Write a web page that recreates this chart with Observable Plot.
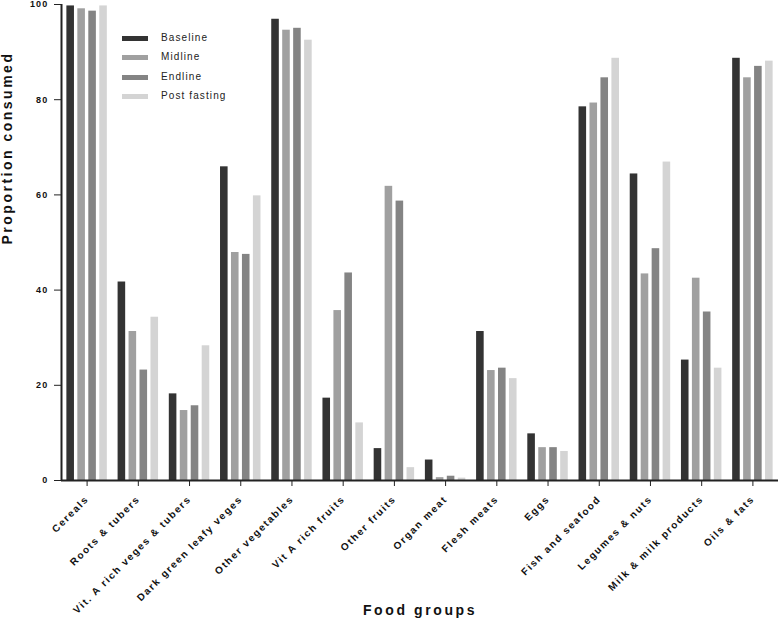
<!DOCTYPE html>
<html>
<head>
<meta charset="utf-8">
<script src="https://cdn.jsdelivr.net/npm/d3@7"></script>
<script src="https://cdn.jsdelivr.net/npm/@observablehq/plot@0.6"></script>
<style>
  html, body { margin: 0; padding: 0; background: #fff; }
  #wrap { position: relative; width: 778px; height: 618px; }
  #wrap svg { display: block; font-family: "Liberation Sans", Arial, sans-serif; color: #222; }
  #wrap svg text { font-weight: bold; letter-spacing: 1.2px; fill: #111; }
  .legend { position: absolute; left: 122px; top: 30px; font-family: "Liberation Sans", Arial, sans-serif; font-size: 10px; letter-spacing: 1.1px; color: #222; }
  .legend .item { position: absolute; left: 0; height: 12px; white-space: nowrap; }
  .legend .sw { position: absolute; left: 0; top: 4px; width: 26px; height: 5px; }
  .legend .lab { position: absolute; left: 39px; top: 0; line-height: 12px; }
</style>
</head>
<body>
<div id="wrap"></div>
<script>
const categories = ["Cereals", "Roots & tubers", "Vit. A rich veges & tubers", "Dark green leafy veges",
  "Other vegetables", "Vit A rich fruits", "Other fruits", "Organ meat", "Flesh meats", "Eggs",
  "Fish and seafood", "Legumes & nuts", "Milk & milk products", "Oils & fats"];
const series = ["Baseline", "Midline", "Endline", "Post fasting"];
const baseline    = [99.7, 41.7, 18.2, 65.9, 96.9, 17.3, 6.7, 4.3, 31.3, 9.8, 78.5, 64.4, 25.3, 88.7];
const midline     = [99.1, 31.3, 14.7, 47.9, 94.6, 35.7, 61.8, 0.6, 23.1, 6.9, 79.3, 43.4, 42.5, 84.6];
const endline     = [98.6, 23.2, 15.7, 47.5, 95.0, 43.6, 58.7, 0.9, 23.6, 6.9, 84.6, 48.7, 35.4, 87.0];
const postFasting = [99.7, 34.3, 28.3, 59.8, 92.5, 12.1, 2.7, 0.5, 21.4, 6.1, 88.7, 66.9, 23.6, 88.1];
const colors = ["#333333", "#a0a0a0", "#848484", "#d4d4d4"];
const yTicks = [0, 20, 40, 60, 80, 100];

const values = [baseline, midline, endline, postFasting];
const data = categories.flatMap((cat, g) => series.map((s, i) => ({cat, g, i, series: s, value: values[i][g]})));

const barStep = 0.214, barWidth = 0.148;
const left = d => d.g + 0.5 + (d.i - 1.5) * barStep - barWidth / 2;

const chart = Plot.plot({
  width: 778,
  height: 618,
  marginTop: 4,
  marginLeft: 61,
  marginRight: 0,
  marginBottom: 138,
  x: {domain: [0, categories.length], ticks: categories.map((c, g) => g + 0.5),
      tickFormat: v => categories[Math.round(v - 0.5)], tickRotate: -45, tickSize: 6, tickPadding: 11, label: null},
  y: {domain: [0, 100], ticks: yTicks, tickSize: 7, tickPadding: 6, label: null},
  color: {domain: series, range: colors},
  style: {fontSize: "9px", fontFamily: "Liberation Sans, Arial, sans-serif"},
  marks: [
    Plot.rectY(data, {x1: left, x2: d => left(d) + barWidth, y: "value", fill: "series"}),
    Plot.ruleY([0], {stroke: "#222", strokeWidth: 2}),
    Plot.ruleX([0], {stroke: "#222", strokeWidth: 2}),
    Plot.text(["Proportion consumed"], {frameAnchor: "left", rotate: -90, dx: -54, dy: 2, fontSize: 14, fontWeight: "bold", lineAnchor: "middle"}),
    Plot.text(["Food groups"], {frameAnchor: "bottom", dy: 134, fontSize: 14, fontWeight: "bold", lineAnchor: "bottom"})
  ]
});

d3.select(chart).selectAll("text").each(function() {
  const t = this.textContent;
  if (t === "Proportion consumed") d3.select(this).style("letter-spacing", "2.5px");
  else if (t === "Food groups") d3.select(this).style("letter-spacing", "2.6px");
  else if (categories.includes(t)) d3.select(this).style("letter-spacing", "1.6px").style("font-size", "10px");
});

const wrap = document.getElementById("wrap");
wrap.appendChild(chart);

const legend = d3.select(wrap).append("div").attr("class", "legend");
const itemTops = [2, 20.5, 41, 60];
series.forEach((s, i) => {
  const it = legend.append("div").attr("class", "item").style("top", itemTops[i] + "px");
  it.append("div").attr("class", "sw").style("background", colors[i]);
  it.append("div").attr("class", "lab").text(s);
});
</script>
</body>
</html>
